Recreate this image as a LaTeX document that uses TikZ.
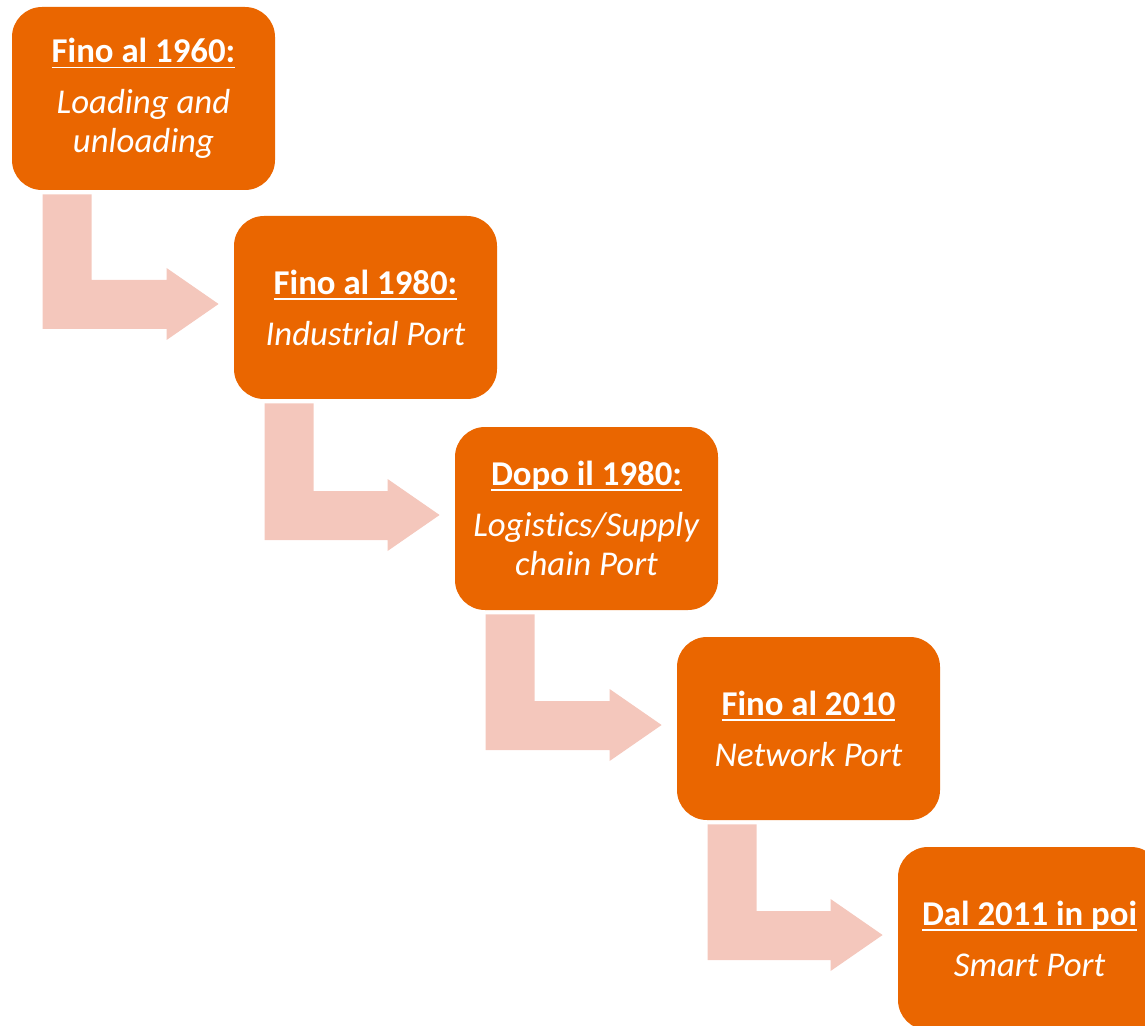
\documentclass[tikz,border=0pt]{standalone}
\usepackage{fontspec}
\setmainfont{Carlito}[Ligatures=NoCommon]
\usepackage{xcolor}
\usepackage{tikz}
\usetikzlibrary{calc}

\definecolor{portorange}{HTML}{EA6600}
\definecolor{arrowpink}{HTML}{F4C7BC}

% bold, underlined heading of a stage
\newcommand{\ulhead}[1]{\setbox0\hbox{\bfseries #1}\rlap{\rule[-2.8pt]{\wd0}{0.9pt}}\box0}

\begin{document}
\begin{tikzpicture}[
  x=0.5pt, y=-0.5pt,
  stage/.style={fill=portorange, text=white, rounded corners=15pt,
    minimum width=131.5pt, minimum height=91.5pt,
    align=center, font=\fontsize{17.4}{19.5}\selectfont},
  elbow/.style={fill=arrowpink}
]
\clip (0,0) rectangle (1145,1026);

\node[stage] (b1) at (143.5,98.5) {\ulhead{Fino al 1960:}\\[6pt]
  \textit{Loading and}\\ \textit{unloading}};
\node[stage] (b2) at (365.5,307.5) {\ulhead{Fino al 1980:}\\[6pt]
  \textit{Industrial Port}};
\node[stage] (b3) at (586.5,518.5) {\ulhead{Dopo il 1980:}\\[6pt]
  \textit{Logistics/Supply}\\ \textit{chain Port}};
\node[stage] (b4) at (808.5,728.5) {\ulhead{Fino al 2010}\\[6pt]
  \textit{Network Port}};
\node[stage] (b5) at (1029.5,938.5) {\ulhead{Dal 2011 in poi}\\[6pt]
  \textit{Smart Port}};

% bent arrows between the stages
\foreach \a/\b in {b1/b2, b2/b3, b3/b4, b4/b5}{
  \coordinate (tip) at ($(\b.west)+(-15,-3.5)$);
  \fill[elbow] ($(\a.south west)+(31,4)$) -- ++(49,0)
    |- ($(tip)+(-52,-24)$) -- ++(0,-12) -- (tip) -- ++(-52,36) -- ++(0,-11)
    -| ($(\a.south west)+(31,4)$) -- cycle;
}
\end{tikzpicture}
\end{document}
